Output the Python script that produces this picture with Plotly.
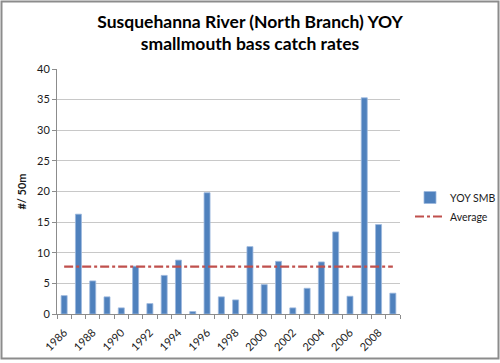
import plotly.graph_objects as go

years = list(range(1986, 2010))
yoy_smb = [3.0, 16.3, 5.4, 2.8, 1.0, 7.8, 1.7, 6.3, 8.8, 0.4, 19.8, 2.8,
           2.3, 11.0, 4.8, 8.6, 1.0, 4.2, 8.5, 13.4, 2.9, 35.3, 14.6, 3.4]
average_value = 7.75
average = [average_value] * len(years)
tick_years = list(range(1986, 2009, 2))
tick_labels = [str(y) for y in tick_years]
y_ticks = [0, 5, 10, 15, 20, 25, 30, 35, 40]

font_family = "Lato, 'Open Sans', sans-serif"

W, H = 500, 363
ML, MR, MT, MB = 57, 100, 69, 49
pw, ph = W - ML - MR, H - MT - MB

def px(xp):
    return (xp - ML) / pw

def py(yp):
    return (H - MB - yp) / ph

fig = go.Figure()
fig.add_trace(go.Bar(
    x=years, y=yoy_smb, name="YOY SMB",
    marker=dict(color="#4F81BD", line=dict(color="#9DB9DE", width=0.8)),
    width=0.42,
))
fig.add_trace(go.Scatter(
    x=years, y=average, name="Average", mode="lines",
    line=dict(color="#C0504D", width=2.2, dash="dashdot"),
))

fig.update_layout(
    width=W, height=H,
    margin=dict(l=ML, r=MR, t=MT, b=MB, autoexpand=False),
    paper_bgcolor="white", plot_bgcolor="white",
    font=dict(family=font_family, size=11, color="#1a1a1a"),
    title=dict(
        text="<b>Susquehanna River (North Branch) YOY<br>smallmouth bass catch rates</b>",
        x=0.5, xanchor="center", y=0.924, yanchor="top",
        font=dict(size=17.5, color="#000000", family=font_family),
    ),
    showlegend=True,
    legend=dict(x=px(410), xanchor="left", y=py(207), yanchor="middle",
                font=dict(size=10.5, color="#1a1a1a"),
                bgcolor="rgba(0,0,0,0)", itemwidth=30, tracegroupgap=4),
    shapes=[dict(type="rect", xref="paper", yref="paper",
                 x0=px(1.5), x1=px(498.5), y0=py(358.5), y1=py(1.5),
                 line=dict(color="#8c8c8c", width=2))],
)

fig.update_xaxes(
    range=[1985.5, 2009.5], automargin=False,
    tickmode="array", tickvals=tick_years, ticktext=tick_labels,
    tickangle=-45, ticks="", showgrid=False,
    showline=True, linecolor="#8c8c8c", linewidth=1,
    tickfont=dict(size=11), ticklabelstandoff=7,
    minor=dict(ticks="outside", tick0=1985.5, dtick=1, ticklen=4,
               tickcolor="#8c8c8c", showgrid=False),
)
fig.update_yaxes(
    range=[0, 40], tickmode="array", tickvals=y_ticks, automargin=False,
    showgrid=True, gridcolor="#c8c8c8", gridwidth=1,
    showline=True, linecolor="#8c8c8c", linewidth=1,
    ticks="outside", ticklen=4, tickcolor="#8c8c8c",
    tickfont=dict(size=11), zeroline=False,
    title=dict(text="<b>#/ 50m</b>", font=dict(size=11), standoff=8),
)

fig.write_html(
    "out.html",
    config={"displayModeBar": False},
    post_script="document.body.style.margin='0';document.body.style.overflow='hidden';",
)
